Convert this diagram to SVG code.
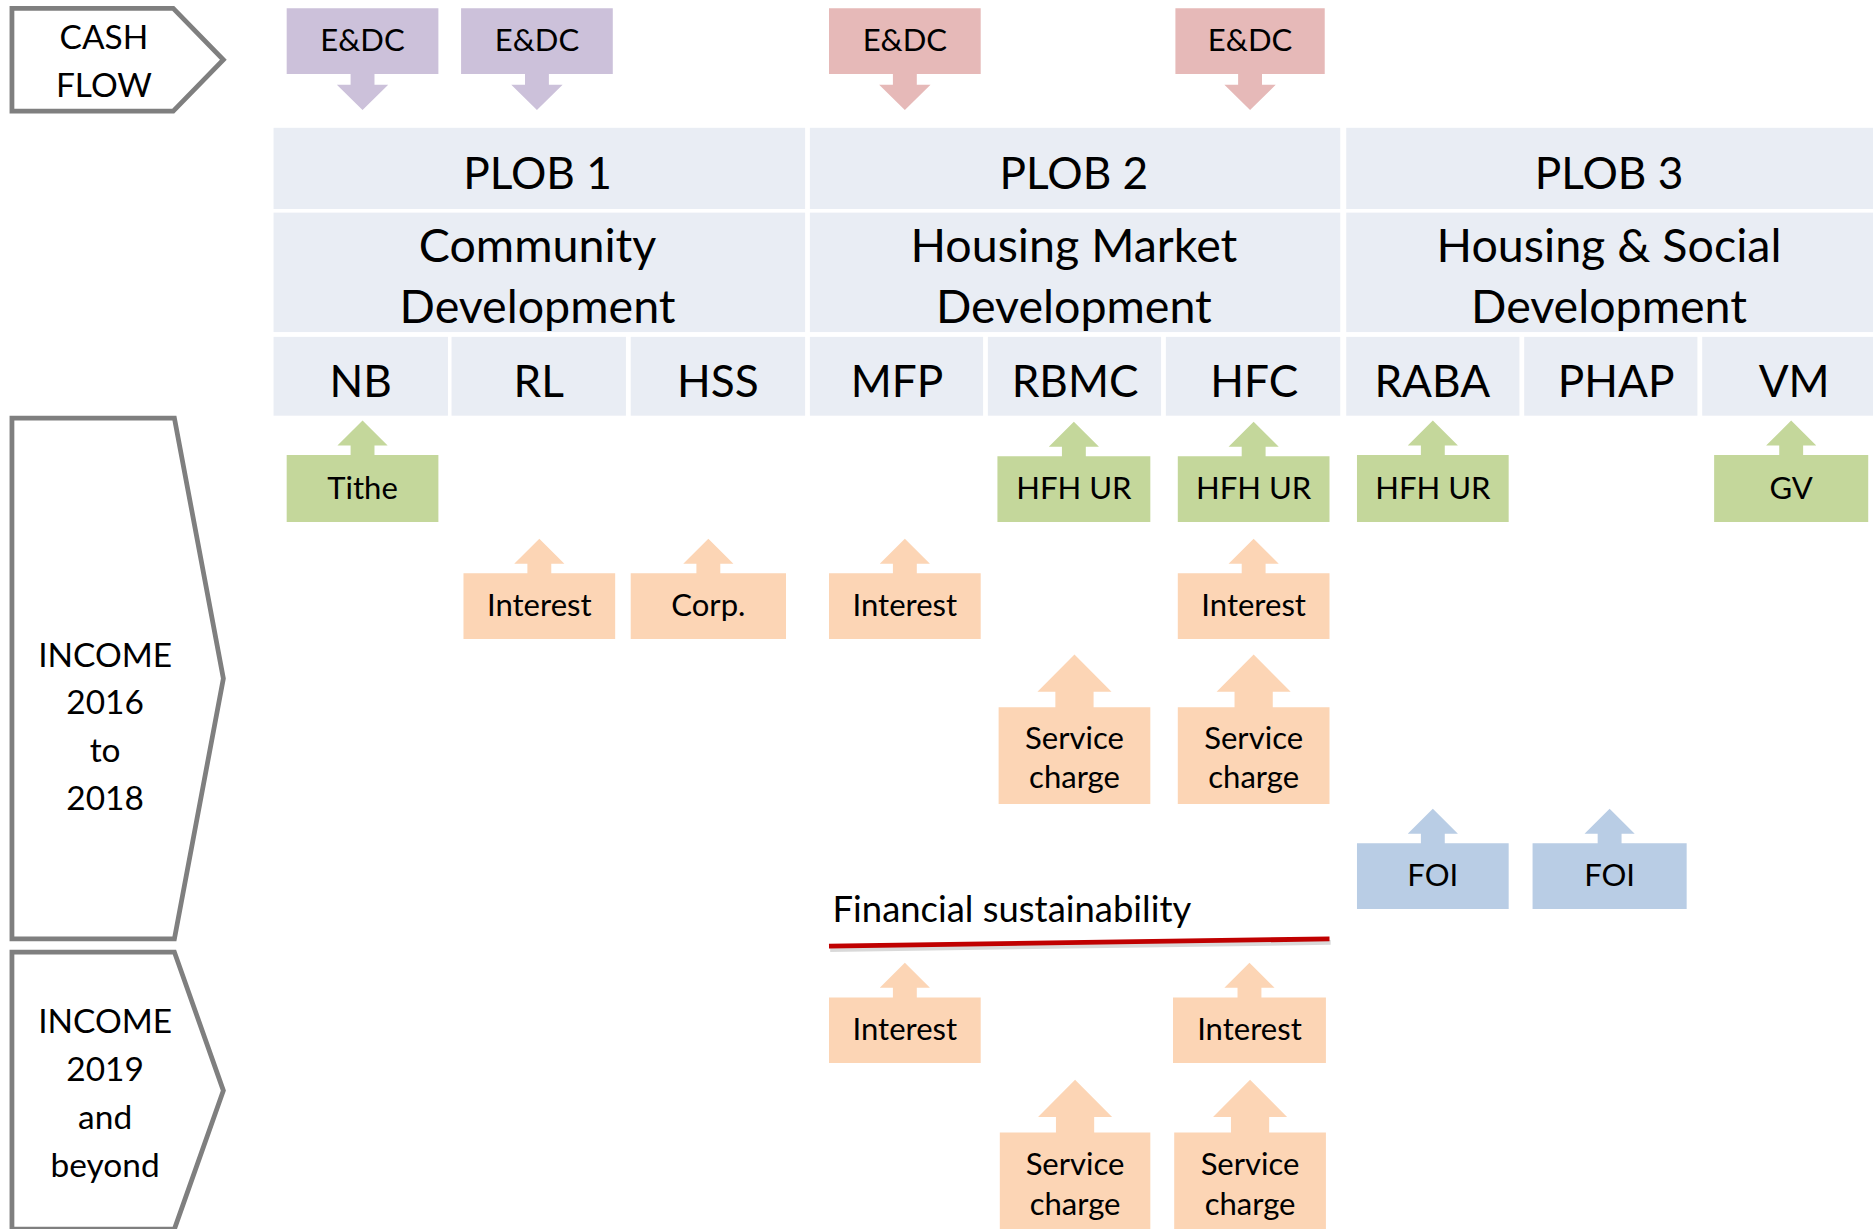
<svg xmlns="http://www.w3.org/2000/svg" width="1873" height="1229" viewBox="0 0 1873 1229">
<style>
.t{font-family:Lato,"Liberation Sans",sans-serif;fill:#000;text-anchor:middle}
.hd{font-size:37px}
.hd2{font-size:39px}
.lb{font-size:26px}
.side{font-size:28px}
.band{fill:#e9edf4}
.pur{fill:#ccc1da}
.pink{fill:#e6b9b8}
.grn{fill:#c4d79b}
.org{fill:#fcd5b5}
.blu{fill:#b9cde5}
.pent{fill:#fff;stroke:#7f7f7f;stroke-width:4;stroke-linejoin:miter}
</style>
<rect width="1873" height="1229" fill="#fff"/>
<g transform="scale(1.19452)">
<g id="cashflow">
<polygon class="pent" points="10,7 145,7 187,50 145,93 10,93"/>
<text class="t side" x="87" y="41">CASH</text>
<text class="t side" x="87" y="81">FLOW</text>
</g>
<g id="income-2016-2018">
<polygon class="pent" points="10,350 146,350 187,568 146,786 10,786"/>
<text class="t side" x="88" y="558">INCOME</text>
<text class="t side" x="88" y="598">2016</text>
<text class="t side" x="88" y="638">to</text>
<text class="t side" x="88" y="678">2018</text>
</g>
<g id="income-2019">
<polygon class="pent" points="10,797 146,797 187,913 146,1029 10,1029 10,1040"/>
<text class="t side" x="88" y="865">INCOME</text>
<text class="t side" x="88" y="905">2019</text>
<text class="t side" x="88" y="945">and</text>
<text class="t side" x="88" y="985">beyond</text>
</g>
<g id="plob1">
<rect class="band" x="229" y="107" width="445" height="68"/>
<rect class="band" x="229" y="178" width="445" height="100"/>
<text class="t hd" x="450" y="158">PLOB 1</text>
<text class="t hd2" x="450" y="219">Community</text>
<text class="t hd2" x="450" y="270">Development</text>
</g>
<g id="plob2">
<rect class="band" x="678" y="107" width="444" height="68"/>
<rect class="band" x="678" y="178" width="444" height="100"/>
<text class="t hd" x="899" y="158">PLOB 2</text>
<text class="t hd2" x="899" y="219">Housing Market</text>
<text class="t hd2" x="899" y="270">Development</text>
</g>
<g id="plob3">
<rect class="band" x="1127" y="107" width="460" height="68"/>
<rect class="band" x="1127" y="178" width="460" height="100"/>
<text class="t hd" x="1347" y="158">PLOB 3</text>
<text class="t hd2" x="1347" y="219">Housing &amp; Social</text>
<text class="t hd2" x="1347" y="270">Development</text>
</g>
<g id="col-nb"><rect class="band" x="229" y="282" width="146" height="66"/><text class="t hd" x="302" y="332">NB</text></g>
<g id="col-rl"><rect class="band" x="378" y="282" width="146" height="66"/><text class="t hd" x="451" y="332">RL</text></g>
<g id="col-hss"><rect class="band" x="528" y="282" width="146" height="66"/><text class="t hd" x="601" y="332">HSS</text></g>
<g id="col-mfp"><rect class="band" x="678" y="282" width="145" height="66"/><text class="t hd" x="751" y="332">MFP</text></g>
<g id="col-rbmc"><rect class="band" x="827" y="282" width="145" height="66"/><text class="t hd" x="900" y="332">RBMC</text></g>
<g id="col-hfc"><rect class="band" x="976" y="282" width="146" height="66"/><text class="t hd" x="1050" y="332">HFC</text></g>
<g id="col-raba"><rect class="band" x="1127" y="282" width="145" height="66"/><text class="t hd" x="1199" y="332">RABA</text></g>
<g id="col-phap"><rect class="band" x="1276" y="282" width="145" height="66"/><text class="t hd" x="1353" y="332">PHAP</text></g>
<g id="col-vm"><rect class="band" x="1425" y="282" width="160" height="66"/><text class="t hd" x="1502" y="332">VM</text></g>

<g id="edc-nb"><polygon class="pur" points="240,7 367,7 367,62 313.5,62 313.5,71 325,71 303.5,92 282,71 293.5,71 293.5,62 240,62"/><text class="t lb" x="303.5" y="43">E&amp;DC</text></g>
<g id="edc-rl"><polygon class="pur" points="386,7 513,7 513,62 459.5,62 459.5,71 471,71 449.5,92 428,71 439.5,71 439.5,62 386,62"/><text class="t lb" x="449.5" y="43">E&amp;DC</text></g>
<g id="edc-mfp"><polygon class="pink" points="694,7 821,7 821,62 767.5,62 767.5,71 779,71 757.5,92 736,71 747.5,71 747.5,62 694,62"/><text class="t lb" x="757.5" y="43">E&amp;DC</text></g>
<g id="edc-hfc"><polygon class="pink" points="984,7 1109,7 1109,62 1056.5,62 1056.5,71 1068,71 1046.5,92 1025,71 1036.5,71 1036.5,62 984,62"/><text class="t lb" x="1046.5" y="43">E&amp;DC</text></g>

<g id="tithe"><polygon class="grn" points="240,437 240,381 293.5,381 293.5,373 282.5,373 303.5,352 324.5,373 313.5,373 313.5,381 367,381 367,437"/><text class="t lb" x="303.5" y="418">Tithe</text></g>
<g id="hfhur-rbmc"><polygon class="grn" points="835,437 835,382 889,382 889,374 878,374 899,353 920,374 909,374 909,382 963,382 963,437"/><text class="t lb" x="899" y="418">HFH UR</text></g>
<g id="hfhur-hfc"><polygon class="grn" points="986,437 986,382 1039.5,382 1039.5,374 1028.5,374 1049.5,353 1070.5,374 1059.5,374 1059.5,382 1113,382 1113,437"/><text class="t lb" x="1049.5" y="418">HFH UR</text></g>
<g id="hfhur-raba"><polygon class="grn" points="1136,437 1136,381 1189.5,381 1189.5,373 1178.5,373 1199.5,352 1220.5,373 1209.5,373 1209.5,381 1263,381 1263,437"/><text class="t lb" x="1199.5" y="418">HFH UR</text></g>
<g id="gv"><polygon class="grn" points="1435,437 1435,381 1489.5,381 1489.5,373 1478.5,373 1499.5,352 1520.5,373 1509.5,373 1509.5,381 1564,381 1564,437"/><text class="t lb" x="1499.5" y="418">GV</text></g>

<g id="interest-rl"><polygon class="org" points="388,535 388,480 441.5,480 441.5,472 430.5,472 451.5,451 472.5,472 461.5,472 461.5,480 515,480 515,535"/><text class="t lb" x="451.5" y="516">Interest</text></g>
<g id="corp"><polygon class="org" points="528,535 528,480 583,480 583,472 572,472 593,451 614,472 603,472 603,480 658,480 658,535"/><text class="t lb" x="593" y="516">Corp.</text></g>
<g id="interest-mfp"><polygon class="org" points="694,535 694,480 747.5,480 747.5,472 736.5,472 757.5,451 778.5,472 767.5,472 767.5,480 821,480 821,535"/><text class="t lb" x="757.5" y="516">Interest</text></g>
<g id="interest-hfc"><polygon class="org" points="986,535 986,480 1039.5,480 1039.5,472 1028.5,472 1049.5,451 1070.5,472 1059.5,472 1059.5,480 1113,480 1113,535"/><text class="t lb" x="1049.5" y="516">Interest</text></g>
<g id="service-rbmc"><polygon class="org" points="836,673 836,592 883.5,592 883.5,579 868.5,579 899.5,548 930.5,579 915.5,579 915.5,592 963,592 963,673"/><text class="t lb" x="899.5" y="627">Service</text><text class="t lb" x="899.5" y="660">charge</text></g>
<g id="service-hfc"><polygon class="org" points="986,673 986,592 1033.5,592 1033.5,579 1018.5,579 1049.5,548 1080.5,579 1065.5,579 1065.5,592 1113,592 1113,673"/><text class="t lb" x="1049.5" y="627">Service</text><text class="t lb" x="1049.5" y="660">charge</text></g>

<g id="foi-raba"><polygon class="blu" points="1136,761 1136,706 1189.5,706 1189.5,698 1178.5,698 1199.5,677 1220.5,698 1209.5,698 1209.5,706 1263,706 1263,761"/><text class="t lb" x="1199.5" y="742">FOI</text></g>
<g id="foi-phap"><polygon class="blu" points="1283,761 1283,706 1337.5,706 1337.5,698 1326.5,698 1347.5,677 1368.5,698 1357.5,698 1357.5,706 1412,706 1412,761"/><text class="t lb" x="1347.5" y="742">FOI</text></g>

<g id="financial-sustainability">
<text class="t" style="font-size:30.5px;text-anchor:start" x="697" y="772">Financial sustainability</text>
<line x1="695" y1="795" x2="1114" y2="789" stroke="#000" stroke-opacity="0.15" stroke-width="4"/>
<line x1="694" y1="792" x2="1113" y2="786" stroke="#c00000" stroke-width="4"/>
</g>

<g id="interest-mfp-2019"><polygon class="org" points="694,890 694,835 747.5,835 747.5,827 736.5,827 757.5,806 778.5,827 767.5,827 767.5,835 821,835 821,890"/><text class="t lb" x="757.5" y="871">Interest</text></g>
<g id="interest-hfc-2019"><polygon class="org" points="982,890 982,835 1036,835 1036,827 1025,827 1046,806 1067,827 1056,827 1056,835 1110,835 1110,890"/><text class="t lb" x="1046" y="871">Interest</text></g>
<g id="service-rbmc-2019"><polygon class="org" points="837,1035 837,948 884,948 884,935 869,935 900,904 931,935 916,935 916,948 963,948 963,1035"/><text class="t lb" x="900" y="984">Service</text><text class="t lb" x="900" y="1017">charge</text></g>
<g id="service-hfc-2019"><polygon class="org" points="983,1035 983,948 1030.5,948 1030.5,935 1015.5,935 1046.5,904 1077.5,935 1062.5,935 1062.5,948 1110,948 1110,1035"/><text class="t lb" x="1046.5" y="984">Service</text><text class="t lb" x="1046.5" y="1017">charge</text></g>
<g id="connectors"/>
</g>
</svg>
